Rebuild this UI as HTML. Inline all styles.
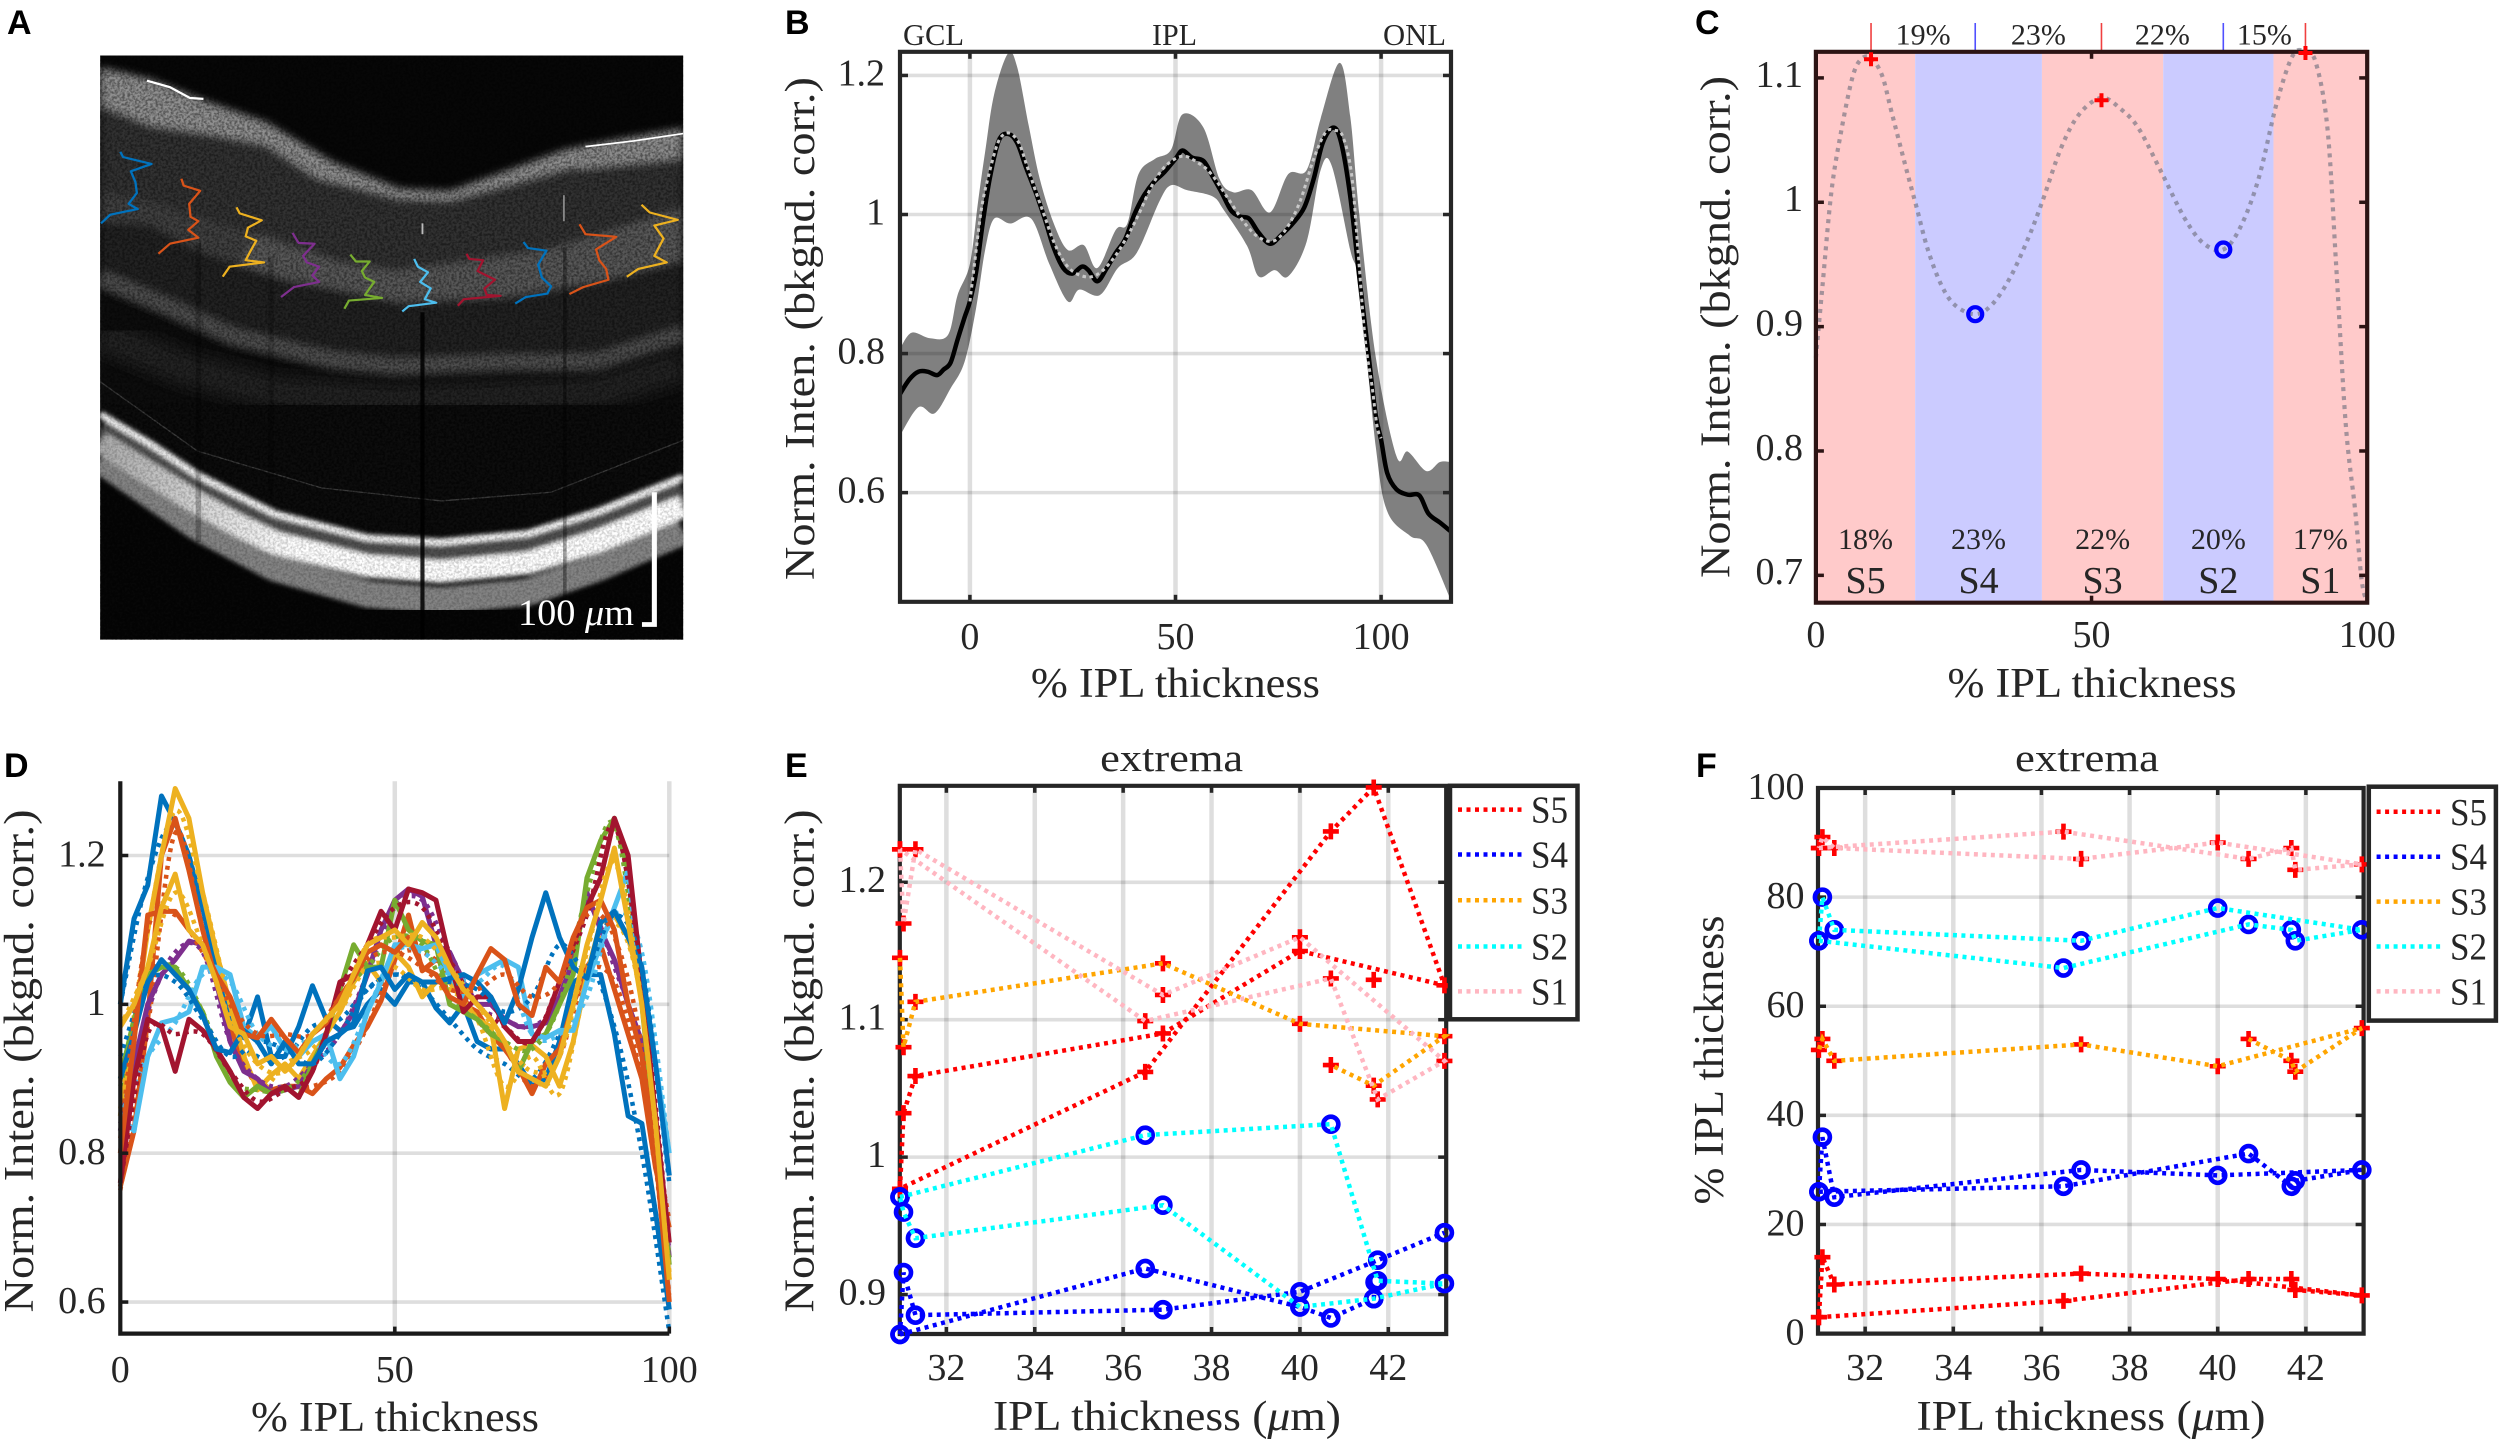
<!DOCTYPE html>
<html lang="en">
<head>
<meta charset="utf-8">
<title>IPL intensity profile figure</title>
<style>
html,body{margin:0;padding:0;background:#fff;}
svg{display:block;}
.t{font-family:"Liberation Serif",serif;fill:#262626;}
.lab{font-size:42px;}
.title{font-size:39px;}
.top{font-size:31px;}
.letter{font-family:"Liberation Sans",sans-serif;font-weight:bold;font-size:34px;fill:#000;}
</style>
</head>
<body>
<svg id="fig" xmlns="http://www.w3.org/2000/svg" width="2500" height="1444" viewBox="0 0 2500 1444">
<defs>
<clipPath id="clipA"><rect x="218" y="128" width="1270" height="1347"/></clipPath>
<linearGradient id="rpeGrad" gradientUnits="userSpaceOnUse" x1="218" y1="0" x2="640" y2="0"><stop offset="0" stop-color="#a8a8a8"/><stop offset="1" stop-color="#ffffff"/></linearGradient>
<filter id="blurS" x="-5%" y="-5%" width="110%" height="110%"><feGaussianBlur stdDeviation="5"/></filter>
<filter id="blurA" x="-5%" y="-5%" width="110%" height="110%"><feGaussianBlur stdDeviation="9"/></filter>
<filter id="blurB" x="-5%" y="-5%" width="110%" height="110%"><feGaussianBlur stdDeviation="16"/></filter>
<filter id="noiseA" x="0" y="0" width="100%" height="100%"><feTurbulence type="fractalNoise" baseFrequency="0.18" numOctaves="2" seed="4"/><feColorMatrix type="matrix" values="0 0 0 0 0  0 0 0 0 0  0 0 0 0 0  3 0 0 0 -1.1"/></filter>
</defs>
<rect x="0" y="0" width="2500" height="1444" fill="#fff"/>

<!-- Panel A: OCT scan illustration -->
<g transform="scale(0.4592,0.4337)">
<g clip-path="url(#clipA)">
<rect x="218" y="128" width="1270" height="1347" fill="#070707"/>
<g filter="url(#blurA)">
<polygon fill="#101010" points="218,640 400,730 600,800 860,835 1100,830 1300,820 1488,760 1488,1100 1300,1180 1150,1230 960,1250 800,1240 600,1185 430,1095 218,955"/>
<polygon fill="#333333" points="218,155 327,182 436,228 581,282 726,374 871,435 980,440 1100,395 1230,345 1350,320 1488,295 1488,770 1300,830 1100,840 860,845 600,810 400,740 218,650"/>
<polygon fill="#909090" points="218,155 327,182 436,228 581,282 726,374 871,435 980,440 1100,395 1230,345 1350,320 1488,295 1488,335 1350,365 1230,390 1100,428 980,462 871,458 690,410 581,335 472,312 327,289 218,243"/>
<polygon fill="#585858" points="560,540 740,605 860,625 1000,605 1200,575 1350,525 1488,480 1488,600 1300,650 1100,685 871,697 617,643 520,610"/>
<polygon fill="#3f3f3f" points="218,440 327,465 400,490 560,540 520,610 436,581 327,520 218,512"/>
<polygon fill="#202020" points="218,512 327,520 436,581 617,643 871,697 1100,685 1300,650 1488,600 1488,750 1300,810 1100,822 860,825 600,790 400,720 218,630"/>
<polyline fill="none" stroke="#505050" stroke-width="36" points="218,640 363,705 508,775 726,830 860,845 1100,835 1300,835 1488,770"/>
<polygon fill="#8c8c8c" points="1260,345 1488,320 1488,365 1260,390"/>
</g>
<polyline fill="none" stroke="#222" stroke-width="80" filter="url(#blurB)" points="218,770 400,850 600,905 860,925 1100,915 1300,905 1488,840"/>
<polyline fill="none" stroke="#3c3c3c" stroke-width="3" points="218,880 430,1040 700,1125 960,1155 1200,1135 1488,1015"/>
<rect x="218" y="128" width="1270" height="1347" fill="#000" filter="url(#noiseA)" opacity="0.4"/>
<g filter="url(#blurS)" fill="none" stroke-linejoin="round">
<polyline stroke="#505050" stroke-width="60" points="218,990 430,1125 600,1215 800,1270 960,1282 1150,1262 1300,1212 1488,1132"/>
<polyline stroke="#848484" stroke-width="62" points="218,1060 430,1215 600,1310 800,1370 960,1385 1150,1365 1300,1310 1488,1225"/>
<polyline stroke="url(#rpeGrad)" stroke-width="52" points="218,1020 320,1088 430,1160 520,1212 600,1252 800,1305 960,1318 1150,1298 1300,1248 1488,1168"/>
<polyline stroke="#f8f8f8" stroke-width="16" points="218,955 330,1025 430,1095 600,1185 800,1240 960,1250 1150,1230 1300,1180 1488,1100"/>
</g>
<rect x="218" y="930" width="1270" height="545" fill="#000" filter="url(#noiseA)" opacity="0.18"/>
<polyline fill="none" stroke="#fff" stroke-width="5" points="320,186 370,201 414,226 443,228"/>
<polyline fill="none" stroke="#fff" stroke-width="4" points="1275,338 1380,325 1488,308"/>
<line x1="920" y1="720" x2="920" y2="1475" stroke="#000" stroke-width="9" opacity="0.85"/>
<line x1="432" y1="560" x2="432" y2="1250" stroke="#000" stroke-width="12" opacity="0.25"/>
<line x1="590" y1="590" x2="590" y2="1150" stroke="#000" stroke-width="12" opacity="0.2"/>
<line x1="1230" y1="570" x2="1230" y2="1400" stroke="#000" stroke-width="8" opacity="0.35"/>
<line x1="920" y1="515" x2="920" y2="540" stroke="#bbb" stroke-width="4"/>
<line x1="1228" y1="450" x2="1228" y2="510" stroke="#888" stroke-width="4"/>
<g fill="none" stroke-width="5" stroke-linejoin="round">
<polyline stroke="#0072BD" points="262,350 268,362 330,378 285,395 295,420 298,445 280,470 300,482 240,495 220,515"/>
<polyline stroke="#D95319" points="395,412 400,428 436,440 412,470 415,500 432,510 410,530 432,548 370,562 345,585"/>
<polyline stroke="#EDB120" points="515,478 522,492 570,508 540,525 535,545 558,555 545,580 535,600 575,605 500,615 485,638"/>
<polyline stroke="#7E2F8E" points="637,537 650,560 685,562 660,590 668,605 695,615 680,635 695,650 640,662 612,685"/>
<polyline stroke="#77AC30" points="763,587 775,603 805,603 788,625 795,640 815,650 795,680 832,687 760,693 750,712"/>
<polyline stroke="#4DBEEE" points="902,597 910,615 932,628 915,650 938,665 925,690 950,698 890,706 876,718"/>
<polyline stroke="#A2142F" points="1016,585 1022,597 1052,600 1040,625 1078,645 1055,665 1060,680 1090,682 1010,690 997,705"/>
<polyline stroke="#0072BD" points="1140,558 1150,572 1190,578 1172,610 1180,640 1200,660 1192,677 1145,685 1122,700"/>
<polyline stroke="#D95319" points="1262,517 1275,540 1342,546 1298,575 1305,600 1320,620 1325,645 1270,662 1240,678"/>
<polyline stroke="#EDB120" points="1397,472 1415,490 1476,507 1425,520 1445,550 1425,590 1452,605 1390,620 1365,638"/>
</g>
<polyline fill="none" stroke="#fff" stroke-width="11" points="1425,1135 1425,1440 1398,1440"/>
</g>
</g>
<text x="518" y="625" font-size="37" textLength="116" lengthAdjust="spacingAndGlyphs" font-family="Liberation Serif, serif" fill="#fff">100 <tspan font-style="italic">μ</tspan>m</text>

<!-- Panel letters -->
<text class="letter" x="7" y="34">A</text>
<text class="letter" x="785" y="34">B</text>
<text class="letter" x="1695" y="34">C</text>
<text class="letter" x="4" y="777">D</text>
<text class="letter" x="785" y="777">E</text>
<text class="letter" x="1696" y="777">F</text>

<!-- Axis titles -->
<text class="t lab" transform="translate(814,328.6) rotate(-90)" text-anchor="middle" textLength="503" lengthAdjust="spacingAndGlyphs">Norm. Inten. (bkgnd. corr.)</text>
<text class="t lab" x="1175.4" y="697" text-anchor="middle" textLength="289" lengthAdjust="spacingAndGlyphs">% IPL thickness</text>
<text class="t top" x="903" y="45" textLength="61" lengthAdjust="spacingAndGlyphs">GCL</text>
<text class="t top" x="1152" y="45" textLength="45" lengthAdjust="spacingAndGlyphs">IPL</text>
<text class="t top" x="1383" y="45" textLength="63" lengthAdjust="spacingAndGlyphs">ONL</text>

<text class="t lab" transform="translate(1729.6,327) rotate(-90)" text-anchor="middle" textLength="502" lengthAdjust="spacingAndGlyphs">Norm. Inten. (bkgnd. corr.)</text>
<text class="t lab" x="2092" y="697" text-anchor="middle" textLength="289" lengthAdjust="spacingAndGlyphs">% IPL thickness</text>

<text class="t lab" transform="translate(33,1061) rotate(-90)" text-anchor="middle" textLength="503" lengthAdjust="spacingAndGlyphs">Norm. Inten. (bkgnd. corr.)</text>
<text class="t lab" x="395" y="1431" text-anchor="middle" textLength="288" lengthAdjust="spacingAndGlyphs">% IPL thickness</text>

<text class="t title" x="1171.6" y="771" text-anchor="middle" textLength="143" lengthAdjust="spacingAndGlyphs">extrema</text>
<text class="t lab" transform="translate(813.6,1061) rotate(-90)" text-anchor="middle" textLength="503" lengthAdjust="spacingAndGlyphs">Norm. Inten. (bkgnd. corr.)</text>
<text class="t lab" x="1167" y="1430" text-anchor="middle" textLength="348" lengthAdjust="spacingAndGlyphs">IPL thickness (<tspan font-style="italic">μ</tspan>m)</text>

<text class="t title" x="2087" y="771" text-anchor="middle" textLength="144" lengthAdjust="spacingAndGlyphs">extrema</text>
<text class="t lab" transform="translate(1723,1060) rotate(-90)" text-anchor="middle" textLength="289" lengthAdjust="spacingAndGlyphs">% IPL thickness</text>
<text class="t lab" x="2091" y="1430" text-anchor="middle" textLength="349" lengthAdjust="spacingAndGlyphs">IPL thickness (<tspan font-style="italic">μ</tspan>m)</text>

<g id="plots"></g>
</svg>

<script>
/* ---------- Panel B data ---------- */
const bMeanPct=[-17,-14.7,-12.5,-10.3,-8,-6.4,-4.7,-3,-1.3,0,1.5,3.1,4.8,7,9.3,11.5,13.7,16,18.2,20.4,22.7,24.9,27.2,28.8,31,33.3,35.5,37.8,40,42.2,44.5,47.3,50,51.7,54,56.8,59,61.2,63.5,65.7,67.9,70.2,73,75.8,78.5,81.3,83.6,85.8,88.4,90.3,92.5,94.7,97,98.7,100,101.5,103.7,106.5,109.3,111.5,114.3,117];
const bMeanVal=[.742,.763,.774,.774,.769,.777,.787,.82,.852,.875,.917,.987,1.051,1.106,1.116,1.103,1.067,1.032,.994,.952,.923,.915,.925,.92,.904,.923,.945,.965,1,1.026,1.045,1.061,1.08,1.092,1.082,1.077,1.055,1.032,1.006,.997,.994,.974,.958,.971,.987,1.01,1.051,1.103,1.125,1.103,1.026,.91,.795,.711,.676,.628,.605,.597,.596,.57,.557,.544];
const bUpperPct=[-17,-14.2,-9.7,-5.3,-3,0,2,3.7,5.9,9.3,11.5,14.3,17,20.4,23.8,27.7,31,35.5,38.3,41,45,48.9,51.7,56.8,60.7,64,68.5,73,77.4,81.9,85.3,89.9,92.5,94.7,98.7,103.7,106.5,111,114.3,117];
const bUpperVal=[.807,.83,.822,.827,.884,.929,1.019,1.09,1.173,1.232,1.212,1.128,1.051,.987,.949,.956,.923,.978,.987,1.058,1.08,1.093,1.144,1.125,1.051,1.032,1.035,1.003,1.058,1.064,1.138,1.218,1.141,1,.795,.653,.659,.631,.644,.644];
const bLowerPct=[-17,-12.5,-8.6,-4.7,-1.3,1.5,3.7,5.9,9.8,14.9,19.3,23.8,26.6,31.6,36,40.6,46.1,48.9,52.8,59,61.8,67.4,70.2,74.1,77.4,81.9,85.3,88,92.5,94.7,98.7,101.5,107,111,117];
const bLowerVal=[.682,.723,.714,.75,.788,.865,.949,.994,.987,.994,.929,.875,.892,.884,.923,.945,1.019,1.042,1.035,1.026,1.006,.955,.911,.92,.911,.961,1.064,1.07,.949,.897,.666,.573,.538,.525,.445];
const bXTicks=[0,50,100];
const bYTicks=[0.6,0.8,1,1.2];
const bYLabels=["0.6","0.8","1","1.2"];

/* ---------- Panel C data (fit shared with panel B overlay) ---------- */
const fitPct=[0,1.2,2.8,4.5,6.6,8.2,10,12,13.7,16.2,18.2,20.3,22.8,25.3,28.9,32,35.3,38.6,41.1,44.5,47.8,51.8,55.3,58.6,62.8,66.9,70.3,73.9,77,80.3,83.6,86.5,88.8,90.7,92.8,94.4,96.1,97.8,99,100];
const fitVal=[.875,.933,1.008,1.055,1.1,1.115,1.116,1.102,1.073,1.03,.997,.962,.933,.917,.91,.918,.94,.972,1.001,1.044,1.071,1.084,1.075,1.059,1.023,.987,.967,.962,.98,1.019,1.08,1.118,1.121,1.112,1.059,.947,.822,.753,.696,.678];
const cBandEdges=[0,18,41,63,83,100];
const cBandNames=["S5","S4","S3","S2","S1"];
const cBandPct=["18%","23%","22%","20%","17%"];
const cPeakPct=[10,51.8,88.8];
const cPeakVal=[1.115,1.082,1.12];
const cTroughPct=[28.9,73.9];
const cTroughVal=[.91,.962];
const cTopPct=[10,28.9,51.8,73.9,88.8];
const cTopLabels=["19%","23%","22%","15%"];
const cXTicks=[0,50,100];
const cYTicks=[0.7,0.8,0.9,1,1.1];
const cYLabels=["0.7","0.8","0.9","1","1.1"];

/* ---------- Panel D data ---------- */
const dPct=[0,2.5,5,7.5,10,12.5,15,17.5,20,22.5,25,27.5,30,32.5,35,37.5,40,42.5,45,47.5,50,52.5,55,57.5,60,62.5,65,67.5,70,72.5,75,77.5,80,82.5,85,87.5,90,92.5,95,97.5,100];
const dFitPct=[0,5,10,15,20,25,30,35,40,45,50,55,60,65,70,75,80,85,90,95,100];
const dSubjBlue1=[1.0,1.115,1.16,1.28,1.245,1.2,1.13,1.05,.98,.955,1.01,.93,.93,.97,1.025,.98,.965,.97,1.0,1.02,1.0,1.03,1.03,.995,.975,1.0,.95,.94,.94,.92,.89,.9,.95,1.03,1.04,1.04,.96,.85,.84,.72,.59];
const dSubjOrange1=[.755,.83,.98,1.2,1.25,1.18,1.10,1.03,.97,.92,.89,.885,.89,.89,.88,.90,.915,.945,.97,1.005,1.06,1.12,1.045,1.06,1.05,1.0,.99,.96,.94,.915,.88,.92,.94,1.0,1.05,1.08,1.02,.96,.90,.78,.70];
const dSubjYellow1=[.85,.97,1.10,1.20,1.29,1.25,1.15,1.07,1.00,.93,.885,.905,.92,.90,.93,.96,.99,1.03,1.055,1.03,1.07,1.05,1.01,1.03,1.03,1.005,.98,.97,.86,.94,.945,.93,.89,.95,1.04,1.11,1.12,1.09,1.02,.80,.63];
const dSubjPurple=[.83,.92,1.0,1.04,1.06,1.085,1.08,1.03,.95,.91,.90,.88,.885,.89,.92,.95,.96,.99,1.04,1.10,1.14,1.155,1.145,1.08,1.07,1.03,1.0,1.0,.98,.97,.97,.975,1.01,1.06,1.15,1.10,1.06,1.0,.95,.82,.66];
const dSubjGreen=[.90,.98,1.04,1.05,1.05,1.02,.99,.93,.895,.875,.89,.88,.89,.875,.92,.96,1.02,1.08,1.05,1.05,1.14,1.1,1.085,1.08,1.0,.99,.98,.96,.95,.91,.95,.96,1.0,1.04,1.17,1.22,1.25,1.18,1.0,.82,.65];
const dSubjCyan=[.85,.83,.93,.975,.98,.99,1.05,1.05,1.04,.97,.955,.97,.94,.93,.95,.96,.90,.93,.99,1.03,1.08,1.08,1.075,1.08,1.04,1.01,1.04,1.05,1.06,1.05,.96,.955,.965,.965,1.03,1.08,1.13,1.18,1.02,.92,.80];
const dSubjMaroon=[.76,.90,.98,.97,.91,.98,.965,.94,.91,.875,.86,.88,.89,.875,.91,.96,1.03,1.04,1.08,1.125,1.10,1.155,1.15,1.14,1.06,.99,1.01,1.01,.97,.95,.95,.98,1.03,1.08,1.13,1.17,1.25,1.2,1.03,.85,.68];
const dSubjBlue2=[.90,.96,1.03,1.06,1.04,1.02,.985,.94,.935,.965,.95,.92,.95,.92,.92,.95,.96,.975,1.045,1.05,1.02,1.04,1.03,1.03,1.035,1.04,1.03,1.01,.975,1.02,1.09,1.15,1.09,1.05,1.035,1.11,1.125,1.09,1.05,.92,.77];
const dSubjOrange2=[.80,.95,1.12,1.125,1.125,1.10,1.08,1.04,1.01,.96,.955,.98,.955,.935,.96,.975,1.01,1.035,1.07,1.08,1.07,1.09,1.05,1.04,1.01,1.0,1.04,1.075,1.06,1.0,.985,1.05,1.03,1.09,1.13,1.14,1.10,1.0,.93,.80,.60];
const dSubjYellow2=[.97,1.0,1.05,1.13,1.175,1.10,1.08,1.03,.97,.96,.92,.93,.91,.93,.96,.98,1.0,1.04,1.08,1.09,1.10,1.08,1.11,1.09,1.05,1.02,1.0,.98,.95,.91,.90,.89,.93,1.0,1.08,1.14,1.21,1.11,1.0,.84,.63];
const dFitBlue1=[1.0,1.17,1.24,1.12,.97,.93,.93,.97,.98,1.02,1.04,1.02,.98,.94,.92,.90,.96,1.05,.97,.80,.56];
const dFitOrange1=[.75,.97,1.23,1.10,.97,.89,.89,.89,.91,.97,1.06,1.07,1.04,.98,.94,.89,.93,1.04,1.03,.90,.71];
const dFitYellow1=[.86,1.1,1.26,1.15,1.0,.89,.92,.94,.99,1.05,1.05,1.02,1.02,.98,.89,.93,.88,1.03,1.11,1.0,.64];
const dFitPurple=[.84,.99,1.07,1.07,.95,.90,.89,.92,.96,1.04,1.13,1.14,1.07,1.0,.98,.97,1.01,1.13,1.05,.93,.67];
const dFitGreen=[.89,1.03,1.05,.99,.90,.885,.885,.92,1.01,1.05,1.09,1.08,1.01,.98,.95,.94,1.0,1.15,1.24,1.0,.66];
const dFitCyan=[.85,.93,.975,1.04,1.03,.96,.94,.95,.92,.99,1.07,1.07,1.04,1.03,1.05,.96,.96,1.01,1.12,1.07,.80];
const dFitMaroon=[.76,.96,.96,.96,.91,.87,.885,.91,1.02,1.08,1.13,1.13,1.06,1.0,.97,.95,1.03,1.12,1.24,1.03,.68];
const dFitBlue2=[.93,1.03,1.03,.98,.93,.95,.94,.92,.96,1.02,1.04,1.03,1.03,1.02,.99,1.01,1.08,1.05,1.12,1.05,.76];
const dFitOrange2=[.82,1.1,1.12,1.07,1.0,.96,.96,.96,1.01,1.06,1.07,1.05,1.02,1.02,1.04,1.01,1.03,1.12,1.09,.94,.61];
const dFitYellow2=[.97,1.05,1.15,1.08,.98,.92,.91,.96,1.0,1.08,1.09,1.09,1.05,1.0,.95,.91,.93,1.07,1.19,1.0,.64];
const dXTicks=[0,50,100];
const dYTicks=[0.6,0.8,1,1.2];
const dYLabels=["0.6","0.8","1","1.2"];

/* ---------- Panel E data ---------- */
const eS5Thick=[30.95,31.03,31.3,36.9,40,43.27,41.67,40.7,36.5,30.95];
const eS5Val=[.977,1.032,1.059,1.09,1.15,1.125,1.269,1.237,1.062,.977];
const eS5LoneThick=[41.67];
const eS5LoneVal=[1.129];
const eS4Thick=[30.95,31.03,31.3,36.9,40,41.76,43.27,null,30.95,36.5,40,40.7,41.67,41.7];
const eS4Val=[.871,.916,.885,.889,.902,.925,.945,null,.871,.919,.891,.883,.897,.909];
const eS3Thick=[30.95,31.03,31.3,36.9,40,43.27,41.67,40.7];
const eS3Val=[1.145,1.08,1.113,1.141,1.097,1.088,1.052,1.067];
const eS2Thick=[30.95,36.5,40.7,41.76,43.27,41.67,40,36.9,31.3,31.03,30.95];
const eS2Val=[.971,1.016,1.024,.91,.908,.897,.891,.965,.941,.96,.971];
const eS1Thick=[30.95,31.03,31.3,36.9,40,43.27,41.76,40.7,36.5,30.95];
const eS1Val=[1.224,1.17,1.224,1.118,1.16,1.07,1.042,1.13,1.099,1.224];
const eXTicks=[32,34,36,38,40,42];
const eYTicks=[0.9,1,1.1,1.2];
const eYLabels=["0.9","1","1.1","1.2"];

/* ---------- Panel F data ---------- */
const fLoopThick=[30.95,36.5,40.7,41.67,41.76,43.27,40,36.9,31.3,31.03,30.95];
const fS5Val=[3,6,10,10,8,7,10,11,9,14,3];
const fS4Val=[26,27,33,27,28,30,29,30,25,36,26];
const fS3Thick=[40.7,41.67,41.76,43.27,40,36.9,31.3,31.03,30.95];
const fS3Val=[54,50,48,56,49,53,50,54,52];
const fS2Val=[72,67,75,74,72,74,78,72,74,80,72];
const fS1Val=[89,92,87,89,85,86,90,87,89,91,89];
const fXTicks=[32,34,36,38,40,42];
const fYTicks=[0,20,40,60,80,100];
const fYLabels=["0","20","40","60","80","100"];

const legendNames=["S5","S4","S3","S2","S1"];
const legendColors=["#ff0000","#0000ff","#ffa500","#00ffff","#ffb6c1"];

/* ---------- Helpers ---------- */
const NS="http://www.w3.org/2000/svg";
const root=document.getElementById('plots');
const INK="#262626";
const GRID="rgba(0,0,0,0.13)";
function mk(tag,parent,attrs){
  const e=document.createElementNS(NS,tag);
  for(const k in attrs){e.setAttribute(k,attrs[k]);}
  parent.appendChild(e);
  return e;
}
function linear(d0,d1,r0,r1){
  return function(v){return r0+(v-d0)/(d1-d0)*(r1-r0);};
}
function pathD(xs,ys,sx,sy){
  let d="",pen=false;
  for(let i=0;i<xs.length;i++){
    if(xs[i]===null||ys[i]===null){pen=false;continue;}
    d+=(pen?"L":"M")+sx(xs[i]).toFixed(2)+" "+sy(ys[i]).toFixed(2);
    pen=true;
  }
  return d;
}
/* Catmull-Rom cubic segments through the projected data points */
function curveSegs(pts){
  let d="";
  for(let i=0;i<pts.length-1;i++){
    const p0=pts[Math.max(i-1,0)],p1=pts[i],p2=pts[i+1],p3=pts[Math.min(i+2,pts.length-1)];
    const c1x=p1[0]+(p2[0]-p0[0])/6,c1y=p1[1]+(p2[1]-p0[1])/6;
    const c2x=p2[0]-(p3[0]-p1[0])/6,c2y=p2[1]-(p3[1]-p1[1])/6;
    d+="C"+c1x.toFixed(2)+" "+c1y.toFixed(2)+" "+c2x.toFixed(2)+" "+c2y.toFixed(2)+" "+p2[0].toFixed(2)+" "+p2[1].toFixed(2);
  }
  return d;
}
function project(xs,ys,sx,sy){
  return xs.map(function(x,i){return [sx(x),sy(ys[i])];});
}
function smoothD(xs,ys,sx,sy){
  const pts=project(xs,ys,sx,sy);
  return "M"+pts[0][0].toFixed(2)+" "+pts[0][1].toFixed(2)+curveSegs(pts);
}
function series(parent,xs,ys,sx,sy,style,name,smooth){
  const p=mk('path',parent,Object.assign({d:smooth?smoothD(xs,ys,sx,sy):pathD(xs,ys,sx,sy),fill:'none'},style));
  
  
  return p;
}
function band(parent,ux,uy,lx,ly,sx,sy,fill,name){
  const low=project(lx,ly,sx,sy).reverse();
  const d=smoothD(ux,uy,sx,sy)+"L"+low[0][0].toFixed(2)+" "+low[0][1].toFixed(2)+curveSegs(low)+"Z";
  const p=mk('path',parent,{d:d,fill:fill});
  
  
  return p;
}
function plus(parent,cx,cy,arm,w,color,name){
  const p=mk('path',parent,{d:"M"+(cx-arm)+" "+cy+"H"+(cx+arm)+"M"+cx+" "+(cy-arm)+"V"+(cy+arm),stroke:color,'stroke-width':w,fill:'none'});
  
  
}
function ring(parent,cx,cy,r,w,color,name){
  const c=mk('circle',parent,{cx:cx,cy:cy,r:r,fill:'none',stroke:color,'stroke-width':w});
  
  
}
function label(parent,x,y,s,size,anchor,name){
  const t=mk('text',parent,{x:x,y:y,'text-anchor':anchor,'font-size':size,'class':'t'});
  t.textContent=s;
  
  
  return t;
}
function grid(parent,box,sx,sy,xt,yt,prefix){
  xt.forEach(function(v){
    const l=mk('line',parent,{x1:sx(v),x2:sx(v),y1:box.y0,y2:box.y1,stroke:GRID,'stroke-width':4.5});
    
    
  });
  yt.forEach(function(v){
    const l=mk('line',parent,{x1:box.x0,x2:box.x1,y1:sy(v),y2:sy(v),stroke:GRID,'stroke-width':3.6});
    
    
  });
}
function frame(parent,box,sx,sy,xt,yt,ylabs,o){
  const p=o.prefix, color=o.color||INK, full=o.full!==false, xb=o.xBase, yr=o.yRight, lift=o.lift||0;
  xt.forEach(function(v){
    const x=sx(v);
    const a=mk('line',parent,{x1:x,x2:x,y1:box.y1,y2:box.y1-7,stroke:color,'stroke-width':3.5});
    
    
    if(full){
      const b=mk('line',parent,{x1:x,x2:x,y1:box.y0,y2:box.y0+7,stroke:color,'stroke-width':3.5});
      
      
    }
    label(parent,x,xb,String(v),38,'middle',p+'-x-tick-label');
  });
  yt.forEach(function(v,i){
    const y=sy(v);
    const a=mk('line',parent,{x1:box.x0,x2:box.x0+8,y1:y,y2:y,stroke:color,'stroke-width':3.5});
    
    
    if(full){
      const b=mk('line',parent,{x1:box.x1,x2:box.x1-8,y1:y,y2:y,stroke:color,'stroke-width':3.5});
      
      
    }
    label(parent,yr,y+12.85-lift,ylabs[i],38,'end',p+'-y-tick-label');
  });
  const d=full
    ?"M"+box.x0+" "+box.y0+"H"+box.x1+"V"+box.y1+"H"+box.x0+"Z"
    :"M"+box.x0+" "+box.y0+"V"+box.y1+"H"+box.x1;
  const s=mk('path',parent,{d:d,fill:'none',stroke:color,'stroke-width':o.sw||4.2});
  
  
}
function legend(parent,x0,x1,y0,y1,lineX0,lineX1,textX,ys,prefix){
  const r=mk('rect',parent,{x:x0,y:y0,width:x1-x0,height:y1-y0,fill:'#fff',stroke:INK,'stroke-width':4.5});
  
  
  legendNames.forEach(function(n,i){
    const l=mk('line',parent,{x1:lineX0,x2:lineX1,y1:ys[i],y2:ys[i],stroke:legendColors[i],'stroke-width':4.5,'stroke-dasharray':'4 4.5'});
    
    
    const t=mk('text',parent,{x:textX,y:ys[i]+13,'font-size':38,'class':'t',textLength:37,lengthAdjust:'spacingAndGlyphs'});
    t.textContent=n;
    
    
  });
}
const DOT={'stroke-width':4.5,'stroke-dasharray':'4 4.5'};

/* ---------- Panel B ---------- */
(function(){
  const g=mk('g',root,{});
  
  
  const box={x0:900,x1:1451,y0:51.8,y1:601.8};
  const sx=linear(-17,117,box.x0,box.x1), sy=linear(.443,1.234,box.y1,box.y0);
  band(g,bUpperPct,bUpperVal,bLowerPct,bLowerVal,sx,sy,'#808080','b-std-band');
  grid(g,box,sx,sy,bXTicks,bYTicks,'b');
  series(g,bMeanPct,bMeanVal,sx,sy,{stroke:'#000','stroke-width':4.5},'b-mean-line',true);
  series(g,fitPct,fitVal,sx,sy,{stroke:'#c8c8c8','stroke-width':3,'stroke-dasharray':'3.5 3.5'},'b-fit-line',true);
  frame(g,box,sx,sy,bXTicks,bYTicks,bYLabels,{prefix:'b',xBase:649,yRight:885,lift:3});
})();

/* ---------- Panel C ---------- */
(function(){
  const g=mk('g',root,{});
  
  
  const box={x0:1815.9,x1:2367.2,y0:51.8,y1:602.7};
  const sx=linear(0,100,box.x0,box.x1), sy=linear(.678,1.121,box.y1,box.y0);
  cBandNames.forEach(function(n,i){
    const r=mk('rect',g,{x:sx(cBandEdges[i]),y:box.y0,width:sx(cBandEdges[i+1])-sx(cBandEdges[i]),height:box.y1-box.y0,fill:i%2?'#cbcbff':'#ffcaca'});
    
    
    const cx=sx((cBandEdges[i]+cBandEdges[i+1])/2);
    label(g,cx,549,cBandPct[i],30,'middle','band-percent-'+n.toLowerCase());
    label(g,cx,593,n,38,'middle','band-name-'+n.toLowerCase());
  });
  series(g,fitPct,fitVal,sx,sy,{stroke:'rgba(110,110,125,0.62)','stroke-width':4.2,'stroke-dasharray':'4 5'},'c-fit-line',true);
  cTopPct.forEach(function(v,i){
    const l=mk('line',g,{x1:sx(v),x2:sx(v),y1:23,y2:51,stroke:i%2?'#5050ff':'#f04040','stroke-width':1.6});
    
    
  });
  cTopLabels.forEach(function(s,i){
    label(g,sx((cTopPct[i]+cTopPct[i+1])/2),44.6,s,30,'middle','c-top-spacing-label');
  });
  frame(g,box,sx,sy,cXTicks,cYTicks,cYLabels,{prefix:'c',xBase:647,yRight:1803,color:'#2c1414',lift:4});
  cPeakPct.forEach(function(v,i){plus(g,sx(v),sy(cPeakVal[i]),7,4,'#ff0000','c-peak-marker');});
  cTroughPct.forEach(function(v,i){ring(g,sx(v),sy(cTroughVal[i]),7,4.2,'#0000ff','c-trough-marker');});
})();

/* ---------- Panel D ---------- */
(function(){
  const g=mk('g',root,{});
  
  
  const box={x0:120.3,x1:669.3,y0:781.3,y1:1333.6};
  const sx=linear(0,100,box.x0,box.x1), sy=linear(.5576,1.2997,box.y1,box.y0);
  grid(g,box,sx,sy,dXTicks.slice(1),dYTicks,'d');
  const solid=[dSubjBlue1,dSubjOrange1,dSubjYellow1,dSubjPurple,dSubjGreen,dSubjCyan,dSubjMaroon,dSubjBlue2,dSubjOrange2,dSubjYellow2];
  const fits=[dFitBlue1,dFitOrange1,dFitYellow1,dFitPurple,dFitGreen,dFitCyan,dFitMaroon,dFitBlue2,dFitOrange2,dFitYellow2];
  const colors=['#0072BD','#D95319','#EDB120','#7E2F8E','#77AC30','#4DBEEE','#A2142F','#0072BD','#D95319','#EDB120'];
  solid.forEach(function(vals,i){
    series(g,dFitPct,fits[i],sx,sy,{stroke:colors[i],'stroke-width':4.5,'stroke-dasharray':'4 5'},'d-fit-line',true);
    series(g,dPct,vals,sx,sy,{stroke:colors[i],'stroke-width':5,'stroke-linejoin':'round'},'d-profile-line');
  });
  frame(g,box,sx,sy,dXTicks,dYTicks,dYLabels,{prefix:'d',xBase:1382,yRight:105.6,full:false,sw:4.2,color:'#1a1a1a',lift:2});
})();

/* ---------- Panels E and F ---------- */
function extrema(g,xs,ys,sx,sy,color,kind,name){
  xs.forEach(function(x,i){
    if(x===null||ys[i]===null){return;}
    if(kind==='plus'){plus(g,sx(x),sy(ys[i]),8,4.6,'#ff0000',name+'-marker');}
    else{ring(g,sx(x),sy(ys[i]),7.5,4.6,'#0000ff',name+'-marker');}
  });
  series(g,xs,ys,sx,sy,Object.assign({stroke:color},DOT),name+'-line');
}
(function(){
  const g=mk('g',root,{});
  
  
  const box={x0:899.8,x1:1446.2,y0:785.8,y1:1334};
  const sx=linear(30.946,43.31,box.x0,box.x1), sy=linear(.8713,1.2702,box.y1,box.y0);
  grid(g,box,sx,sy,eXTicks,eYTicks,'e');
  frame(g,box,sx,sy,eXTicks,eYTicks,eYLabels,{prefix:'e',xBase:1380,yRight:886,lift:3});
  extrema(g,eS5Thick,eS5Val,sx,sy,legendColors[0],'plus','e-s5');
  extrema(g,eS5LoneThick,eS5LoneVal,sx,sy,legendColors[0],'plus','e-s5-isolated');
  extrema(g,eS4Thick,eS4Val,sx,sy,legendColors[1],'ring','e-s4');
  extrema(g,eS3Thick,eS3Val,sx,sy,legendColors[2],'plus','e-s3');
  extrema(g,eS2Thick,eS2Val,sx,sy,legendColors[3],'ring','e-s2');
  extrema(g,eS1Thick,eS1Val,sx,sy,legendColors[4],'plus','e-s1');
  legend(g,1450,1577.5,785.8,1019.3,1458,1526,1531,[809.6,854.5,900.3,946.5,991.4],'e');
})();
(function(){
  const g=mk('g',root,{});
  
  
  const box={x0:1818,x1:2363.6,y0:788,y1:1333.6};
  const sx=linear(30.93,43.31,box.x0,box.x1), sy=linear(0,100,box.y1,box.y0);
  grid(g,box,sx,sy,fXTicks,fYTicks.slice(1,5),'f');
  frame(g,box,sx,sy,fXTicks,fYTicks,fYLabels,{prefix:'f',xBase:1380,yRight:1804.5,lift:2});
  extrema(g,fLoopThick,fS5Val,sx,sy,legendColors[0],'plus','f-s5');
  extrema(g,fLoopThick,fS4Val,sx,sy,legendColors[1],'ring','f-s4');
  extrema(g,fS3Thick,fS3Val,sx,sy,legendColors[2],'plus','f-s3');
  extrema(g,fLoopThick,fS2Val,sx,sy,legendColors[3],'ring','f-s2');
  extrema(g,fLoopThick,fS1Val,sx,sy,legendColors[4],'plus','f-s1');
  legend(g,2368.8,2495.9,786.7,1020.6,2376.6,2443.6,2450,[811.8,856.7,901.6,946.5,991.4],'f');
})();
</script>
</body>
</html>
